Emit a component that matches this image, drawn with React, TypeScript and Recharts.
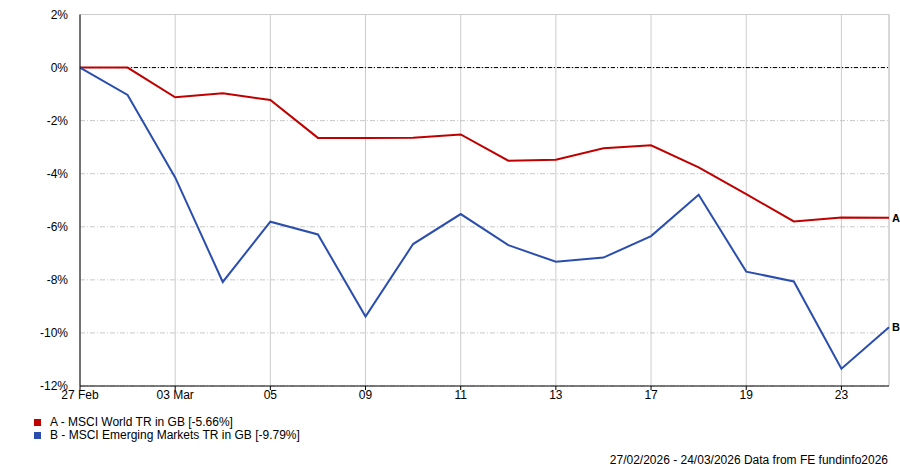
import {
  LineChart,
  Line,
  XAxis,
  YAxis,
  CartesianGrid,
  ReferenceLine,
} from 'recharts';

// trading days 27 Feb - 24 Mar 2026
const fechas = [
  '27/02', '02/03', '03/03', '04/03', '05/03', '06/03', '09/03', '10/03', '11/03',
  '12/03', '13/03', '16/03', '17/03', '18/03', '19/03', '20/03', '23/03', '24/03',
];

const serieA = [
  0, 0, -1.12, -0.97, -1.22, -2.65, -2.65, -2.64, -2.52,
  -3.51, -3.47, -3.04, -2.93, -3.76, -4.77, -5.8, -5.65, -5.66,
];

const serieB = [
  0, -1.03, -4.14, -8.08, -5.81, -6.29, -9.38, -6.65, -5.52,
  -6.69, -7.32, -7.16, -6.35, -4.79, -7.69, -8.06, -11.35, -9.79,
];

const ticksX = [0, 2, 4, 6, 8, 10, 12, 14, 16];
const etiquetasX = ['27 Feb', '03 Mar', '05', '09', '11', '13', '17', '19', '23'];
const ticksY = [-12, -10, -8, -6, -4, -2, 0, 2];

const nombreA = 'A - MSCI World TR in GB [-5.66%]';
const nombreB = 'B - MSCI Emerging Markets TR in GB [-9.79%]';
const pie = '27/02/2026 - 24/03/2026 Data from FE fundinfo2026';

const ROJO = '#c00000';
const AZUL = '#2b4eae';
const FUENTE = '"Liberation Sans", Arial, sans-serif';

const datos = fechas.map((f, i) => ({ i, fecha: f, a: serieA[i], b: serieB[i] }));

const etiquetaFinal = (letra: string) => (props: any) => {
  const { x, y, index } = props;
  if (index !== datos.length - 1) return null;
  return (
    <text key={letra} x={x + 3} y={y + 4} fontSize={11} fontWeight="bold" fill="#000" fontFamily={FUENTE}>
      {letra}
    </text>
  );
};

function Leyenda() {
  const items = [
    { nombre: nombreA, color: ROJO },
    { nombre: nombreB, color: AZUL },
  ];
  return (
    <div
      style={{
        position: 'absolute',
        left: 34,
        top: 416,
        fontFamily: FUENTE,
        fontSize: 12,
        color: '#000',
        lineHeight: '13px',
      }}
    >
      {items.map((it) => (
        <div key={it.nombre} style={{ display: 'flex', alignItems: 'center', height: 13 }}>
          <span style={{ display: 'inline-block', width: 7, height: 7, background: it.color, marginRight: 9 }} />
          <span>{it.nombre}</span>
        </div>
      ))}
    </div>
  );
}

export default function App() {
  return (
    <div style={{ position: 'absolute', left: 0, top: 0, width: 900, height: 467, background: '#fff', fontFamily: FUENTE }}>
      <LineChart
        width={900}
        height={467}
        data={datos}
        margin={{ top: 14.5, right: 11, left: 20, bottom: 51 }}
      >
        <CartesianGrid horizontal={false} vertical stroke="#cccccc" strokeDasharray="" />
        <CartesianGrid vertical={false} horizontal stroke="#c8c8c8" strokeDasharray="5 2 1 2" />
        <ReferenceLine y={2} stroke="#cccccc" strokeWidth={1} />
        <ReferenceLine x={17} stroke="#cccccc" strokeWidth={1} />
        <ReferenceLine y={0} stroke="#000" strokeDasharray="4 2 1 2" strokeWidth={1} />
        <XAxis
          dataKey="i"
          type="number"
          domain={[0, 17]}
          ticks={ticksX}
          tickFormatter={(v: number) => etiquetasX[ticksX.indexOf(v)] ?? ''}
          axisLine={{ stroke: '#000' }}
          tickLine={{ stroke: '#000' }}
          tickSize={4}
          tickMargin={0}
          tick={{ fontSize: 12, fill: '#000', fontFamily: FUENTE }}
          height={30}
        />
        <YAxis
          type="number"
          domain={[-12, 2]}
          ticks={ticksY}
          tickFormatter={(v: number) => `${v}%`}
          axisLine={{ stroke: '#000' }}
          tickLine={false}
          tickMargin={6}
          tick={{ fontSize: 12, fill: '#000', fontFamily: FUENTE }}
          width={60}
        />
        <Line
          type="linear"
          dataKey="a"
          stroke={ROJO}
          strokeWidth={2}
          dot={false}
          isAnimationActive={false}
          name={nombreA}
          label={etiquetaFinal('A')}
        />
        <Line
          type="linear"
          dataKey="b"
          stroke={AZUL}
          strokeWidth={2}
          dot={false}
          isAnimationActive={false}
          name={nombreB}
          label={etiquetaFinal('B')}
        />
      </LineChart>
      <Leyenda />
      <div
        style={{
          position: 'absolute',
          right: 12,
          top: 453,
          fontSize: 12,
          color: '#000',
          fontFamily: FUENTE,
          whiteSpace: 'nowrap',
        }}
      >
        {pie}
      </div>
    </div>
  );
}
